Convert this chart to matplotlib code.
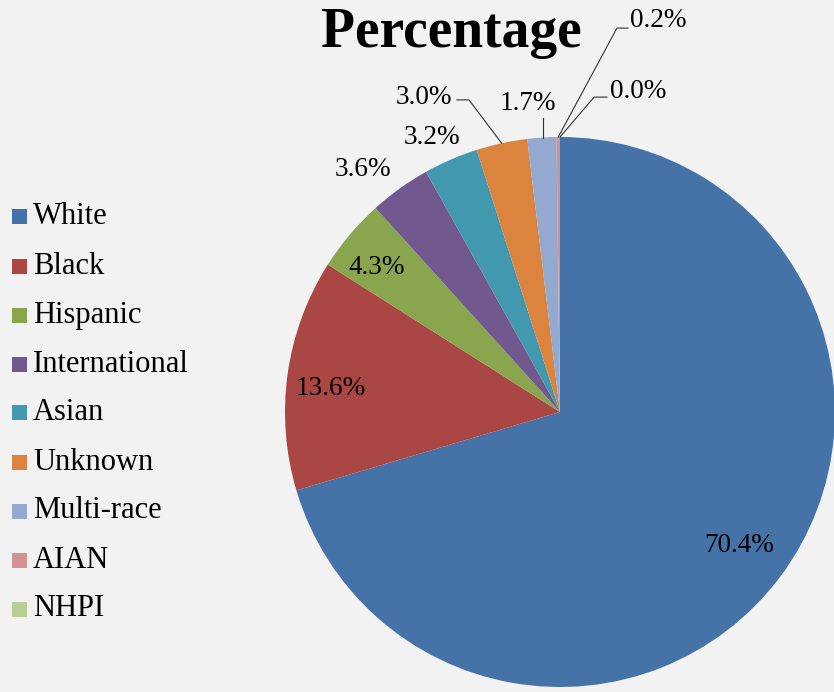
import matplotlib
matplotlib.use('Agg')
import matplotlib.pyplot as plt
from matplotlib.patches import Rectangle
import numpy as np

categories = ['White', 'Black', 'Hispanic', 'International', 'Asian',
              'Unknown', 'Multi-race', 'AIAN', 'NHPI']
values = [70.4, 13.6, 4.3, 3.6, 3.2, 3.0, 1.7, 0.2, 0.0]
colors = ['#4572A7', '#AA4643', '#89A54E', '#71588F', '#4198AF',
          '#DB843D', '#93A9CF', '#D19392', '#B9CD96']
title = 'Percentage'

W, H, DPI = 834, 692, 100
BG = '#F2F2F2'
SERIF = ['Liberation Serif', 'DejaVu Serif']

fig = plt.figure(figsize=(W / DPI, H / DPI), dpi=DPI, facecolor=BG)

def fx(px):
    return px / W

def fy(py):
    return 1 - py / H

# pie axes (center & radius in pixels)
cx, cy, r = 560, 412, 275
ax = fig.add_axes([fx(cx - r), fy(cy + r), 2 * r / W, 2 * r / H])
ax.set_facecolor('none')
wedges, _ = ax.pie(values, colors=colors, startangle=90, counterclock=False,
                   radius=1, wedgeprops=dict(linewidth=0, clip_on=False))
ax.set_xlim(-1, 1)
ax.set_ylim(-1, 1)
ax.axis('off')

# label layout (data coords relative to pie centre, radius = 1)
label_pos = [(0.651, -0.484), (-0.833, 0.087), (-0.665, 0.527),
             (-0.716, 0.880), (-0.465, 1.000), (-0.495, 1.145),
             (-0.116, 1.120), (0.356, 1.422), (0.284, 1.164)]
# leader lines: elbow points (None = no leader); 'v' = vertical drop
leaders = [None, None, None, None, None,
           [(-0.375, 1.135), (-0.331, 1.135)],
           'v',
           [(0.247, 1.396), (0.207, 1.396)],
           [(0.171, 1.145), (0.124, 1.145)]]

for w, v, (lx, ly), ld in zip(wedges, values, label_pos, leaders):
    ax.text(lx, ly, f'{v:.1f}%', ha='center', va='center', fontsize=19.6,
            family=SERIF, color='#000000', clip_on=False)
    mid = np.deg2rad((w.theta1 + w.theta2) / 2)
    if ld is None:
        continue
    if ld == 'v':
        x0 = -0.062
        ax.plot([x0, x0], [1.069, np.sqrt(1 - x0 ** 2)], color='#333333',
                lw=0.8, clip_on=False)
    else:
        xs = [p[0] for p in ld] + [np.cos(mid)]
        ys = [p[1] for p in ld] + [np.sin(mid)]
        ax.plot(xs, ys, color='#333333', lw=0.8, clip_on=False)

# title
fig.text(fx(451), fy(47), title, ha='center', va='baseline', fontsize=40,
         fontweight='bold', family=SERIF, color='#000000')

# legend (manual)
y0, step, sq = 217, 49, 15
for i, (cat, col) in enumerate(zip(categories, colors)):
    yc = y0 + i * step
    fig.add_artist(Rectangle((fx(12), fy(yc + sq / 2)), sq / W, sq / H,
                             transform=fig.transFigure, facecolor=col,
                             edgecolor='none'))
    fig.text(fx(33), fy(yc + sq / 2), cat, ha='left', va='baseline',
             fontsize=22, family=SERIF, color='#000000')

fig.savefig('out.png', dpi=DPI, facecolor=BG)
